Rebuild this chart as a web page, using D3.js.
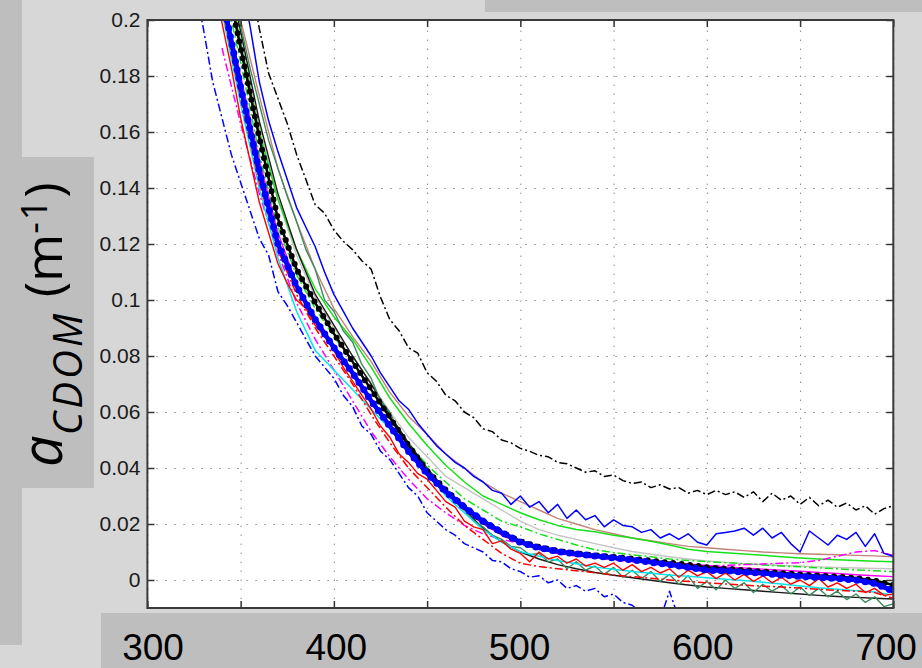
<!DOCTYPE html>
<html>
<head>
<meta charset="utf-8">
<script src="https://cdn.jsdelivr.net/npm/d3@7"></script>
<style>
  body { margin: 0; background: #d7d7d7; }
  svg { display: block; }
</style>
</head>
<body>
<svg id="chart"></svg>
<script>
// wavelength grids (nm)
const wl10 = d3.range(340, 701, 10);

// smooth spectra on the 10 nm grid
const blueThick = [0.209, 0.176, 0.146, 0.120, 0.105, 0.093, 0.083, 0.074, 0.064, 0.055, 0.046, 0.038, 0.0315, 0.026, 0.021, 0.017, 0.0135, 0.0115, 0.0102, 0.0093, 0.0086, 0.0079, 0.0072, 0.0063, 0.0055, 0.0045, 0.0035, 0.0033, 0.0028, 0.0024, 0.0018, 0.0013, 0.0009, 0.0005, 0.0, -0.0012, -0.004];
const blackDots = [0.222, 0.19, 0.158, 0.129, 0.111, 0.099, 0.088, 0.078, 0.068, 0.058, 0.048, 0.039, 0.0322, 0.026, 0.021, 0.017, 0.0138, 0.0118, 0.0104, 0.0095, 0.0088, 0.0082, 0.0076, 0.0069, 0.0062, 0.0054, 0.0046, 0.004, 0.0035, 0.003, 0.0025, 0.002, 0.0016, 0.0012, 0.0007, -0.0002, -0.0018];
const brown = [0.232, 0.2, 0.173, 0.147, 0.128, 0.111, 0.097, 0.087, 0.078, 0.067, 0.0585, 0.052, 0.045, 0.040, 0.035, 0.031, 0.028, 0.025, 0.022, 0.020, 0.018, 0.0165, 0.015, 0.014, 0.013, 0.012, 0.0115, 0.011, 0.0105, 0.010, 0.0097, 0.0094, 0.0092, 0.009, 0.0088, 0.0086, 0.0083];
const lime = [0.225, 0.192, 0.160, 0.136, 0.118, 0.104, 0.094, 0.086, 0.076, 0.065, 0.056, 0.048, 0.041, 0.035, 0.030, 0.027, 0.024, 0.0215, 0.0195, 0.018, 0.0172, 0.016, 0.015, 0.0138, 0.0125, 0.011, 0.0102, 0.0097, 0.0093, 0.0088, 0.0083, 0.0079, 0.0075, 0.0072, 0.007, 0.0067, 0.0065];
const limeDash = [0.215, 0.185, 0.152, 0.126, 0.109, 0.097, 0.087, 0.078, 0.068, 0.058, 0.049, 0.041, 0.035, 0.029, 0.025, 0.021, 0.019, 0.0165, 0.0145, 0.0125, 0.0108, 0.0098, 0.009, 0.0083, 0.0075, 0.007, 0.0066, 0.0062, 0.0058, 0.0054, 0.005, 0.0047, 0.0043, 0.004, 0.0036, 0.0033, 0.003];
const grey = [0.228, 0.195, 0.162, 0.136, 0.116, 0.101, 0.090, 0.080, 0.070, 0.060, 0.051, 0.044, 0.037, 0.033, 0.029, 0.025, 0.021, 0.018, 0.016, 0.0145, 0.013, 0.0115, 0.0102, 0.0092, 0.0083, 0.0075, 0.0068, 0.0063, 0.0058, 0.0055, 0.0052, 0.005, 0.0047, 0.0045, 0.0043, 0.0041, 0.004];
const magenta = [0.21, 0.18, 0.15, 0.124, 0.106, 0.093, 0.083, 0.074, 0.064, 0.055, 0.046, 0.038, 0.031, 0.025, 0.020, 0.016, 0.013, 0.011, 0.0098, 0.009, 0.0083, 0.0077, 0.0072, 0.0067, 0.0062, 0.0057, 0.0052, 0.0047, 0.0043, 0.0039, 0.0035, 0.0031, 0.0027, 0.0023, 0.0019, 0.0015, 0.0012];
const magentaDash = [0.19, 0.163, 0.138, 0.117, 0.099, 0.086, 0.075, 0.064, 0.053, 0.044, 0.036, 0.029, 0.024, 0.0195, 0.0165, 0.0145, 0.013, 0.011, 0.0095, 0.0085, 0.0078, 0.0072, 0.0065, 0.006, 0.0055, 0.0052, 0.005, 0.0052, 0.0055, 0.0057, 0.006, 0.0062, 0.007, 0.0085, 0.010, 0.0105, 0.0088];
const blackThin = [0.228, 0.196, 0.164, 0.138, 0.118, 0.102, 0.091, 0.080, 0.070, 0.059, 0.049, 0.040, 0.032, 0.025, 0.0185, 0.0135, 0.010, 0.0075, 0.0055, 0.004, 0.0027, 0.0017, 0.0008, -0.0001, -0.001, -0.0018, -0.0025, -0.003, -0.0035, -0.004, -0.0045, -0.005, -0.0055, -0.0059, -0.0062, -0.0065, -0.0068];
const cyan = [0.203, 0.170, 0.140, 0.115, 0.096, 0.082, 0.075, 0.068, 0.061, 0.054, 0.046, 0.039, 0.030, 0.024, 0.018, 0.0135, 0.0101, 0.0085, 0.007, 0.0058, 0.0046, 0.0038, 0.003, 0.0024, 0.0018, 0.0013, 0.0008, 0.0003, -0.0002, -0.0008, -0.0014, -0.0021, -0.0028, -0.0033, -0.0038, -0.0043, -0.0054];
const redDash = [0.205, 0.172, 0.142, 0.118, 0.102, 0.090, 0.080, 0.070, 0.059, 0.049, 0.040, 0.033, 0.026, 0.0195, 0.0145, 0.0095, 0.006, 0.0048, 0.004, 0.0033, 0.0026, 0.0018, 0.0012, 0.0006, 0.0, -0.0005, -0.001, -0.0014, -0.0018, -0.0022, -0.0025, -0.0029, -0.0033, -0.0037, -0.004, -0.0045, -0.0065];

// noisy spectra on 5 nm grids
const wlBlueUp = d3.range(350, 701, 5);
const blueUp = [0.215, 0.198, 0.178, 0.164, 0.153, 0.143, 0.133, 0.126, 0.119, 0.110, 0.102, 0.096, 0.090, 0.085, 0.080, 0.074, 0.069, 0.064, 0.061, 0.056, 0.052, 0.048, 0.045, 0.042, 0.040, 0.037, 0.035, 0.032,
  0.031, 0.027, 0.030, 0.026, 0.028, 0.024, 0.027, 0.022, 0.025, 0.0215, 0.023, 0.019, 0.0215, 0.0195, 0.019, 0.017, 0.018, 0.015, 0.0165, 0.0145, 0.0165, 0.0135, 0.0125,
  0.0165, 0.017, 0.0175, 0.0185, 0.016, 0.0185, 0.015, 0.017, 0.013, 0.010, 0.0175, 0.015, 0.0125, 0.016, 0.0145, 0.017, 0.012, 0.0165, 0.0095, 0.0085];

const wlBlackDash = d3.range(355, 701, 5);
const blackDash = [0.215, 0.197, 0.181, 0.172, 0.163, 0.152, 0.143, 0.134, 0.131, 0.125, 0.121, 0.118, 0.114, 0.111, 0.101, 0.093, 0.089, 0.083, 0.081, 0.074, 0.071, 0.066, 0.064, 0.060, 0.058, 0.054, 0.053, 0.050, 0.049, 0.047,
  0.046, 0.0445, 0.044, 0.042, 0.0415, 0.040, 0.0385, 0.039, 0.037, 0.0375, 0.0355, 0.0345, 0.035, 0.033, 0.034, 0.0325, 0.033, 0.031, 0.032, 0.0305, 0.032, 0.0305, 0.0315, 0.0295, 0.0315, 0.028, 0.031, 0.0285, 0.030, 0.027,
  0.0295, 0.0265, 0.0285, 0.026, 0.0275, 0.025, 0.0265, 0.0235, 0.0255, 0.0265];

const wlBlueLow = d3.range(325, 591, 5);
const blueLow = [0.215, 0.197, 0.178, 0.165, 0.152, 0.142, 0.132, 0.122, 0.116, 0.103, 0.098, 0.092, 0.086, 0.080, 0.076, 0.072, 0.066, 0.062, 0.055, 0.052, 0.046, 0.043, 0.038, 0.033, 0.030, 0.024, 0.021, 0.018, 0.016, 0.013,
  0.0115, 0.010, 0.007, 0.0065, 0.004, 0.003, 0.001, 0.0015, -0.001, 0.0, -0.003, -0.002, -0.004, -0.003, -0.006, -0.005, -0.008, -0.009, -0.012, -0.013, -0.014, -0.004, -0.014, -0.015];

const wlRed = d3.range(335, 701, 5);
const red = [0.215, 0.199, 0.183, 0.165, 0.150, 0.135, 0.124, 0.113, 0.106, 0.100, 0.097, 0.091, 0.087, 0.082, 0.076, 0.071, 0.066, 0.061, 0.055, 0.051, 0.045, 0.042, 0.038, 0.036, 0.032, 0.028, 0.026, 0.021, 0.019, 0.018,
  0.013, 0.014, 0.011, 0.0095, 0.0065, 0.010, 0.0075, 0.0085, 0.006, 0.0075, 0.005, 0.006, 0.0045, 0.006, 0.0035, 0.0055, 0.003, 0.0045, 0.0025, 0.004, 0.001, 0.0035, 0.0015, 0.003, 0.0005, 0.0025, 0.0, 0.002,
  -0.0005, 0.0015, -0.001, 0.001, -0.0015, 0.0, -0.002, 0.0005, -0.0025, -0.001, -0.003, -0.0015, -0.0045, -0.003, -0.0055, -0.005];

const wlSea = d3.range(345, 701, 5);
const seaGreen = [0.212, 0.198, 0.183, 0.170, 0.157, 0.147, 0.137, 0.128, 0.118, 0.111, 0.100, 0.096, 0.089, 0.085, 0.077, 0.072, 0.064, 0.060, 0.052, 0.049, 0.043, 0.040, 0.035, 0.032, 0.028, 0.025, 0.021, 0.019, 0.016, 0.0145,
  0.012, 0.0115, 0.009, 0.0095, 0.0065, 0.0075, 0.004, 0.0065, 0.0035, 0.005, 0.002, 0.0045, 0.001, 0.0035, 0.0005, 0.003, -0.0005, 0.002, -0.0015, 0.0015, -0.003, -0.0005, -0.0035, 0.0, -0.003, -0.001,
  -0.0045, -0.0015, -0.004, -0.002, -0.005, -0.0025, -0.0055, -0.003, -0.006, -0.004, -0.007, -0.005, -0.008, -0.006, -0.0095, -0.0085];

// axis ticks and overlay labels
const xGridTicks = [300, 350, 400, 450, 500, 550, 600, 650, 700];
const yTicks = [0, 0.02, 0.04, 0.06, 0.08, 0.1, 0.12, 0.14, 0.16, 0.18, 0.2];
const yTickLabels = ["0", "0.02", "0.04", "0.06", "0.08", "0.1", "0.12", "0.14", "0.16", "0.18", "0.2"];
const xLabels = [300, 400, 500, 600, 700];

const W = 922, H = 668;
const margin = { top: 20, left: 147.4, right: 28.7, bottom: 60 };
const innerW = W - margin.left - margin.right;
const innerH = 588;

const svg = d3.select("#chart").attr("width", W).attr("height", H);

// slide background blocks
svg.append("rect").attr("x", 0).attr("y", 0).attr("width", W).attr("height", H).attr("fill", "#d7d7d7");
svg.append("rect").attr("x", 0).attr("y", 0).attr("width", 22).attr("height", 645).attr("fill", "#bebebe");
svg.append("rect").attr("x", 485).attr("y", 0).attr("width", W - 485).attr("height", 12).attr("fill", "#bebebe");
svg.append("rect").attr("x", 101).attr("y", 613).attr("width", W - 101).attr("height", H - 613).attr("fill", "#bebebe");
svg.append("rect").attr("x", 22).attr("y", 157).attr("width", 72).attr("height", 331).attr("fill", "#bebebe");

const x = d3.scaleLinear().domain([300, 700]).range([0, innerW]);
const y = d3.scaleLinear().domain([-0.01, 0.2]).range([innerH, 0]);

const g = svg.append("g").attr("transform", `translate(${margin.left},${margin.top})`);

g.append("rect").attr("width", innerW).attr("height", innerH).attr("fill", "#fff");

g.append("clipPath").attr("id", "clip")
  .append("rect").attr("width", innerW).attr("height", innerH);

// dotted grid
g.append("g")
  .attr("class", "grid")
  .attr("transform", `translate(0,${innerH})`)
  .call(d3.axisBottom(x).tickValues(xGridTicks).tickSize(-innerH).tickFormat(""))
  .call(s => s.select(".domain").remove());
g.append("g")
  .attr("class", "grid")
  .call(d3.axisLeft(y).tickValues(yTicks).tickSize(-innerW).tickFormat(""))
  .call(s => s.select(".domain").remove());
g.selectAll(".grid line")
  .attr("stroke", "#8a8a8a")
  .attr("stroke-width", 1)
  .attr("stroke-dasharray", "1.4,7.6");

// spectra
const line = d3.line().x(d => x(d[0])).y(d => y(d[1]));
const zip = (wl, vals) => wl.map((w, i) => [w, vals[i]]);

const dashDot = "8,3,2,3";
const series = [
  { wl: wl10, v: grey, color: "#c4c4c4", w: 1.4 },
  { wl: wl10, v: brown, color: "#c3837b", w: 1.4 },
  { wl: wl10, v: lime, color: "#18e018", w: 1.5 },
  { wl: wl10, v: limeDash, color: "#18e018", w: 1.5, dash: dashDot },
  { wl: wl10, v: magenta, color: "#ff00ff", w: 1.4 },
  { wl: wl10, v: magentaDash, color: "#ff00ff", w: 1.5, dash: dashDot },
  { wl: wl10, v: blackThin, color: "#1a1a1a", w: 1.4 },
  { wl: wlSea, v: seaGreen, color: "#3a8a5c", w: 1.4 },
  { wl: wl10, v: cyan, color: "#00e5ee", w: 1.5 },
  { wl: wl10, v: redDash, color: "#ff0000", w: 1.5, dash: dashDot },
  { wl: wlRed, v: red, color: "#ff0000", w: 1.4 },
  { wl: wlBlueUp, v: blueUp, color: "#0000ff", w: 1.5 },
  { wl: wlBlackDash, v: blackDash, color: "#000", w: 1.5, dash: dashDot },
  { wl: wlBlueLow, v: blueLow, color: "#0000ff", w: 1.5, dash: dashDot }
];

const plot = g.append("g").attr("clip-path", "url(#clip)");

plot.selectAll("path.spec")
  .data(series)
  .enter()
  .append("path")
  .attr("class", "spec")
  .attr("d", d => line(zip(d.wl, d.v)))
  .attr("fill", "none")
  .attr("stroke", d => d.color)
  .attr("stroke-width", d => d.w)
  .attr("stroke-dasharray", d => d.dash || null)
  .attr("stroke-linejoin", "round");

// mean spectra drawn with dot markers
const blackPath = line(zip(wl10, blackDots));
plot.append("path").attr("d", blackPath).attr("fill", "none")
  .attr("stroke", "#000").attr("stroke-width", 2.5);
plot.append("path").attr("d", blackPath).attr("fill", "none")
  .attr("stroke", "#000").attr("stroke-width", 6)
  .attr("stroke-linecap", "round").attr("stroke-dasharray", "0,8.5");

const bluePath = line(zip(wl10, blueThick));
plot.append("path").attr("d", bluePath).attr("fill", "none")
  .attr("stroke", "#0000ff").attr("stroke-width", 4.5).attr("stroke-linejoin", "round");
plot.append("path").attr("d", bluePath).attr("fill", "none")
  .attr("stroke", "#0000ff").attr("stroke-width", 7)
  .attr("stroke-linecap", "round").attr("stroke-dasharray", "0,8.5");

// axes: inward ticks on all four sides
const tickStyle = s => {
  s.select(".domain").remove();
  s.selectAll(".tick line").attr("stroke", "#333").attr("stroke-width", 1.5);
};
g.append("g")
  .call(d3.axisLeft(y).tickValues(yTicks).tickSize(-7).tickPadding(7)
    .tickFormat((d, i) => yTickLabels[i]))
  .call(tickStyle)
  .call(s => s.selectAll("text")
    .attr("fill", "#1a1a1a")
    .style("font-family", "'Liberation Sans', Arial, sans-serif")
    .style("font-size", "21px"));
g.append("g").attr("transform", `translate(${innerW},0)`)
  .call(d3.axisRight(y).tickValues(yTicks).tickSize(-7).tickFormat(""))
  .call(tickStyle);
g.append("g").attr("transform", `translate(0,${innerH})`)
  .call(d3.axisBottom(x).tickValues(xGridTicks).tickSize(-7).tickFormat(""))
  .call(tickStyle);
g.append("g")
  .call(d3.axisTop(x).tickValues(xGridTicks).tickSize(-7).tickFormat(""))
  .call(tickStyle);

g.append("rect").attr("width", innerW).attr("height", innerH)
  .attr("fill", "none").attr("stroke", "#3a3a3a").attr("stroke-width", 2);

// large overlay labels on the slide band
const xLabelPos = d3.scaleLinear().domain([300, 700]).range([153, 886]);
svg.append("g").selectAll("text")
  .data(xLabels)
  .enter()
  .append("text")
  .attr("x", d => xLabelPos(d))
  .attr("y", 660)
  .attr("text-anchor", "middle")
  .style("font-family", "'Liberation Sans', Arial, sans-serif")
  .style("font-size", "37px")
  .attr("fill", "#000")
  .text(d => d);

// y title: a_CDOM (m^-1)
const title = svg.append("text")
  .attr("transform", "translate(62,467) rotate(-90)")
  .style("font-family", "'Open Sans', sans-serif")
  .attr("fill", "#000");
title.append("tspan").style("font-style", "italic").style("font-size", "56px").text("a");
title.append("tspan").style("font-style", "italic").style("font-size", "40px")
  .style("letter-spacing", "3px").attr("dy", 20).text("CDOM");
title.append("tspan").style("font-size", "52px").attr("dy", -20).text(" (m");
title.append("tspan").style("font-size", "36px").style("letter-spacing", "2px").attr("dy", -15).text("-1");
title.append("tspan").style("font-size", "52px").attr("dy", 15).text(")");
</script>
</body>
</html>
